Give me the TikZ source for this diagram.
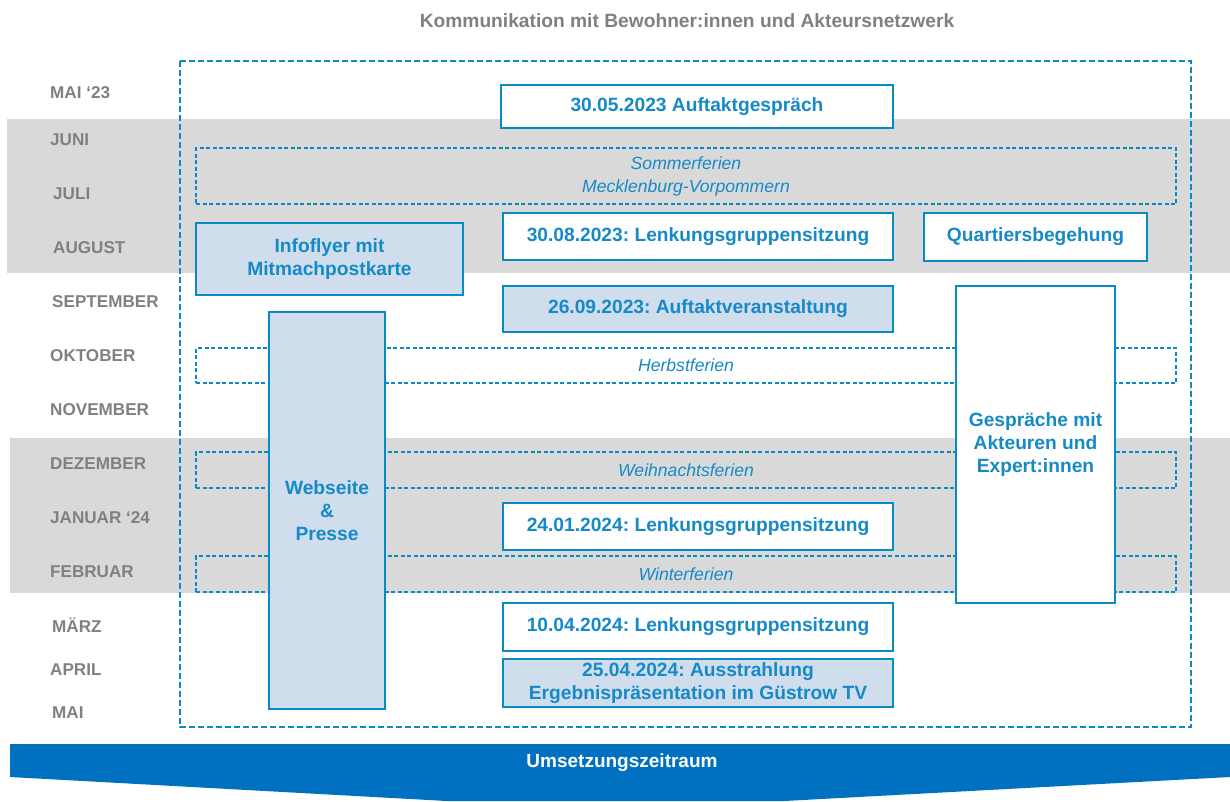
\documentclass[tikz,border=0pt]{standalone}
\usepackage{fontspec}
\setmainfont{Liberation Sans}
\frenchspacing
\definecolor{bl}{RGB}{8,138,199}
\definecolor{bltext}{RGB}{22,138,198}
\definecolor{banner}{RGB}{0,112,192}
\definecolor{lb}{RGB}{207,221,236}
\definecolor{band}{RGB}{217,217,217}
\definecolor{gr}{RGB}{128,128,128}
\tikzset{
  evt/.style={draw=bl, line width=2.2pt, fill=white, text=bltext,
    font=\bfseries\fontsize{19.2}{22.7}\selectfont, align=center, inner sep=0pt},
  evtf/.style={evt, fill=lb},
  hol/.style={draw=bl, dash pattern=on 4pt off 2.5pt, line width=1.3pt, text=bltext,
    font=\itshape\fontsize{17.6}{23}\selectfont, align=center, inner sep=0pt,
    minimum width=980pt},
  mon/.style={text=gr, font=\bfseries\fontsize{17.1}{17.1}\selectfont, anchor=west, inner sep=0pt},
  outerbox/.style={draw=bl, dash pattern=on 6pt off 3pt, line width=2pt}
}
\begin{document}
\begin{tikzpicture}[x=1pt,y=-1pt]
\useasboundingbox (0,0) rectangle (1230,801);
% bands
\fill[band] (7,119) rectangle (1230,273);
\fill[band] (10,438) rectangle (1230,593);
% title
\node[text=gr, font=\bfseries\fontsize{19.2}{19.2}\selectfont, inner sep=0pt] (title) at (687,21) {Kommunikation mit Bewohner:innen und Akteursnetzwerk};
% months
\node[mon] (m1) at (50,92.5) {MAI ‘23};
\node[mon] (m2) at (50,139.5) {JUNI};
\node[mon] (m3) at (53,193.5) {JULI};
\node[mon] (m4) at (53,247.5) {AUGUST};
\node[mon] (m5) at (52,301.5) {SEPTEMBER};
\node[mon] (m6) at (50,355.5) {OKTOBER};
\node[mon] (m7) at (50,409.5) {NOVEMBER};
\node[mon] (m8) at (50,463.5) {DEZEMBER};
\node[mon] (m9) at (50,517.5) {JANUAR ‘24};
\node[mon] (m10) at (50,571.5) {FEBRUAR};
\node[mon] (m11) at (52,625.5) {MÄRZ};
\node[mon] (m12) at (50,669.5) {APRIL};
\node[mon] (m13) at (52,712.5) {MAI};
% outer dashed frame
\draw[outerbox] (180,61) rectangle (1191,727);
% holidays
\node[hol, minimum height=56pt] (so) at (686,176) {Sommerferien\\Mecklenburg-Vorpommern};
\node[hol, minimum height=35pt] (he) at (686,365.5) {Herbstferien};
\node[hol, minimum height=36pt] (we) at (686,470) {Weihnachtsferien};
\node[hol, minimum height=36pt] (wi) at (686,574) {Winterferien};
% events
\node[evt, minimum width=392pt, minimum height=43pt] (a1) at (697,106.5) {30.05.2023 Auftaktgespräch};
\node[evt, minimum width=390pt, minimum height=47pt] (l1) at (698,236.5) {30.08.2023: Lenkungsgruppensitzung};
\node[evt, minimum width=223pt, minimum height=48pt] (q) at (1035.5,237) {Quartiersbegehung};
\node[evtf, minimum width=267pt, minimum height=72pt] (inf) at (329.5,259) {Infoflyer mit\\Mitmachpostkarte};
\node[evtf, minimum width=390pt, minimum height=46pt] (av) at (698,309) {26.09.2023: Auftaktveranstaltung};
\node[evtf, minimum width=116pt, minimum height=397pt] (web) at (327,510.5) {Webseite\\\&\\Presse};
\node[evt, minimum width=159pt, minimum height=317pt] (ges) at (1035.5,444.5) {Gespräche mit\\Akteuren und\\Expert:innen};
\node[evt, minimum width=390pt, minimum height=47pt] (l2) at (698,526.5) {24.01.2024: Lenkungsgruppensitzung};
\node[evt, minimum width=390pt, minimum height=48pt] (l3) at (698,627) {10.04.2024: Lenkungsgruppensitzung};
\node[evtf, minimum width=390pt, minimum height=48pt] (tv) at (698,683) {25.04.2024: Ausstrahlung\\Ergebnispräsentation im Güstrow TV};
% banner
\fill[banner] (10,744) -- (1230,744) -- (1230,777) -- (784,801) -- (447,801) -- (10,777) -- cycle;
\node[text=white, font=\bfseries\fontsize{19}{19}\selectfont, inner sep=0pt] (ban) at (622,763) {Umsetzungszeitraum};
\end{tikzpicture}
\end{document}
